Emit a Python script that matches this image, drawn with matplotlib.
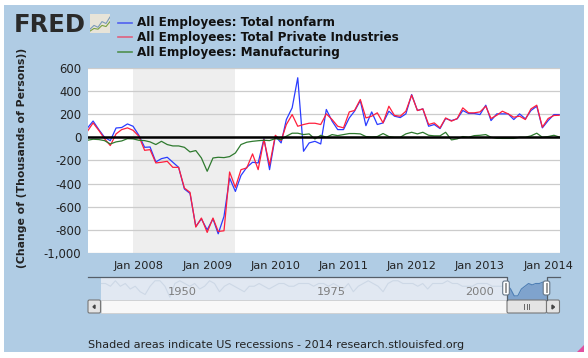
import matplotlib
matplotlib.use('Agg')
import matplotlib.pyplot as plt
import matplotlib.dates as mdates
from matplotlib.patches import Rectangle, FancyBboxPatch, Polygon
import pandas as pd

W, H = 588, 358

months = pd.date_range('2007-04-01', periods=84, freq='MS')

nonfarm = [80, 140, 65, 0, -30, 80, 84, 115, 95, 17, -87, -84,
           -213, -185, -173, -216, -260, -447, -485, -770, -705, -800, -705, -834,
           -684, -352, -468, -330, -260, -216, -222, -12, -280, 9, -49, 153,
           254, 514, -121, -49, -35, -58, 240, 139, 66, 66, 167, 225,
           317, 100, 219, 110, 124, 225, 182, 170, 202, 369, 231, 245,
           95, 110, 75, 162, 144, 159, 231, 205, 205, 196, 277, 144,
           202, 202, 202, 153, 202, 159, 231, 268, 81, 144, 196, 196]
private = [52, 124, 58, -12, -72, 29, 66, 81, 60, 9, -113, -107,
           -222, -216, -208, -260, -260, -439, -476, -776, -698, -822, -698, -814,
           -808, -300, -433, -280, -265, -144, -280, -20, -242, 17, -29, 110,
           196, 95, 110, 121, 121, 110, 202, 153, 95, 81, 219, 231,
           326, 167, 182, 211, 124, 268, 188, 182, 225, 364, 231, 245,
           110, 124, 81, 167, 139, 162, 254, 211, 211, 219, 268, 162,
           190, 225, 202, 173, 182, 153, 245, 277, 87, 162, 188, 190]
manufacturing = [-26, -17, -20, -29, -58, -40, -32, -12, -14, -26, -29, -40,
                 -63, -35, -63, -75, -75, -87, -127, -115, -179, -294, -179, -173,
                 -176, -167, -136, -63, -43, -35, -30, -26, -29, -12, -20, 9,
                 35, 35, 23, 29, -15, 17, 0, 23, 14, 23, 32, 32,
                 29, 6, 3, 6, 32, 6, 0, 0, 29, 43, 29, 43,
                 17, 12, 12, 43, -23, -14, 6, 0, 14, 17, 23, 0,
                 -9, -10, -10, -10, 0, 0, 12, 35, 0, 6, 17, 2]

series_names = ['All Employees: Total nonfarm',
                'All Employees: Total Private Industries',
                'All Employees: Manufacturing']
series_colors = ['#2a3cff', '#ff1f3c', '#2f7a2f']

y_ticks = [600, 400, 200, 0, -200, -400, -600, -800, -1000]
recession = ('2007-12-01', '2009-06-01')
year_ticks = ['2008', '2009', '2010', '2011', '2012', '2013', '2014']

# overview strip above the scrollbar, long history of the series
nav_hist = [5, 5, 4, 6, 4, 5, 3, 4, 2, 1, 4, 6, 6, 4, 0, 5, 6, 5, 4, 5, 3, 4, 6, 5, 2, 4,
            5, 4, 3, 2, 4, 4, 5, 4, 3, 4, 5, 5, 4, 4, 5, 5, 5, 4, 5, 5, 4, 5, 4, 3, 5, 2,
            4, 5, 6, 5, 4, 2, 5, 6, 6, 5, 5, 5, 4, 5, 3, 5, 5, 5, 6, 5, 5, 4, 4, 4, 5, 5,
            5, 4, 4, 4, 5]
nav_recent = [4.5, 3, 0.5, 0.5, 3, 4, 5, 4.5, 5, 5, 5.5, 5]
nav_labels = [('1950', 182), ('1975', 331), ('2000', 480)]

bg = '#b0cce4'
text_col = '#222222'
plt.rcParams['font.family'] = ['DejaVu Sans']

fig = plt.figure(figsize=(W / 100, H / 100), dpi=100, facecolor='white')


def px_axes(x0, y0, x1, y1, **kw):
    # axes placed by pixel box, y counted from the top of the image
    return fig.add_axes([x0 / W, 1 - y1 / H, (x1 - x0) / W, (y1 - y0) / H], **kw)


fig.add_artist(Rectangle((4 / W, 1 - 352 / H), 580 / W, 347 / H, transform=fig.transFigure,
                         facecolor=bg, edgecolor='none', zorder=-5))

ax = px_axes(87.5, 67.8, 560, 253)
x_left = mdates.date2num(pd.Timestamp('2007-04-01'))
ax.set_xlim(x_left, x_left + 472.5 / (68.2 / 365.25))
ax.set_ylim(-1000, 600)
ax.set_facecolor('white')
ax.axvspan(pd.Timestamp(recession[0]), pd.Timestamp(recession[1]), color='#eeeeee', lw=0, zorder=1)
ax.set_yticks(y_ticks)
ax.set_yticklabels([f'{v:,}' for v in y_ticks], fontsize=8.4, color=text_col)
ax.set_xticks([pd.Timestamp(y + '-01-01') for y in year_ticks])
ax.set_xticklabels(['Jan ' + y for y in year_ticks], fontsize=8.2, color=text_col)
ax.tick_params(axis='y', length=0, pad=4.5)
ax.tick_params(axis='x', length=0, pad=6)
ax.grid(axis='y', color='#cccccc', lw=0.9, zorder=2)
for s in ax.spines.values():
    s.set_visible(False)

ax.plot(months, nonfarm, color=series_colors[0], lw=0.9, zorder=3)
ax.plot(months, private, color=series_colors[1], lw=0.9, zorder=4)
ax.plot(months, manufacturing, color=series_colors[2], lw=0.9, zorder=5)
ax.axhline(0, color='black', lw=1.8, zorder=6)

fig.text(22 / W, 1 - 157.5 / H, '(Change of (Thousands of Persons))', rotation=90, fontsize=7.8,
         fontweight='bold', color=text_col, ha='center', va='center')

# legend
for i, name in enumerate(series_names):
    yy = 1 - (22.7 + i * 14.7) / H
    fig.add_artist(plt.Line2D([118 / W, 132 / W], [yy, yy], color=['#5060f0', '#e0607f', '#4f8f4f'][i], lw=1.2))
    fig.text(137 / W, yy, name, fontsize=8.65, fontweight='bold', color='#111111', va='center', ha='left')

# logo
fig.text(13.5 / W, 1 - 24.5 / H, 'FRED', family=['DejaVu Sans'], fontsize=17.5, fontweight='bold',
         color='#2a2a2a', va='center', ha='left')
icon = px_axes(90, 14, 110, 33, facecolor='#e8e4d8')
icon.plot([0, 1, 2, 3, 4, 5], [1, 2, 1.5, 3, 2.5, 4.2], color='#7a9ab8', lw=0.8)
icon.plot([0, 1, 2, 3, 4, 5], [0.5, 1.2, 1, 2, 1.7, 3], color='#7aa040', lw=0.8)
icon.set_xticks([])
icon.set_yticks([])
icon.set_xlim(0, 5)
icon.set_ylim(0, 5)
for s in icon.spines.values():
    s.set_visible(False)

# navigator
nav = px_axes(100.5, 278, 507, 300, facecolor='#e1e8f2')
nav.plot(range(len(nav_hist)), nav_hist, color='#cdd8e6', lw=0.8)
nav.set_xlim(0, len(nav_hist) - 1)
nav.set_ylim(-1, 7)
nav.set_xticks([])
nav.set_yticks([])
for s in nav.spines.values():
    s.set_visible(False)
for lab, xp in nav_labels:
    nav.text((xp - 100.5) / 406.5, (300 - 292) / 22, lab, transform=nav.transAxes, fontsize=8.2,
             color='#7d7d7d', ha='center', va='center')

nav2 = px_axes(507, 278, 546.5, 300, facecolor=bg)
nav2.fill_between(range(len(nav_recent)), nav_recent, -1, color='#7fa3cd', lw=0)
nav2.plot(range(len(nav_recent)), nav_recent, color='#4f7fb5', lw=0.8)
nav2.set_xlim(0, len(nav_recent) - 1)
nav2.set_ylim(-1, 7)
nav2.set_xticks([])
nav2.set_yticks([])
for s in nav2.spines.values():
    s.set_visible(False)

ov = px_axes(0, 0, W, H)
ov.set_xlim(0, W)
ov.set_ylim(H, 0)
ov.axis('off')
ov.patch.set_alpha(0)

# outline of the selected range
ov.plot([88, 507, 507], [276.5, 276.5, 300], color='#555e68', lw=0.9)
ov.plot([546.5, 546.5, 560], [300, 276.5, 276.5], color='#555e68', lw=0.9)

# scrollbar
ov.add_patch(Rectangle((100.5, 300), 406.5, 13, facecolor='#f8f8f8', edgecolor='#d0d0d0', lw=0.6))
for x0, x1 in [(88, 100.5), (507, 546.5), (546.5, 559.5)]:
    ov.add_patch(FancyBboxPatch((x0, 300), x1 - x0, 13, boxstyle='round,pad=0,rounding_size=1.5',
                                facecolor='#e4e4e4', edgecolor='#777777', lw=0.8))
ov.fill([95, 95, 93], [305, 308.5, 306.8], color='#444444')
ov.fill([552, 552, 554.5], [305, 309, 307], color='#444444')
for xp in [524, 526.5, 529]:
    ov.plot([xp, xp], [304, 309], color='#666666', lw=0.7)

# range handles
for xc in [506, 546.5]:
    ov.add_patch(FancyBboxPatch((xc - 3.3, 281), 6.6, 14, boxstyle='round,pad=0,rounding_size=2',
                                facecolor='white', edgecolor='#667788', lw=0.8, zorder=5))
    ov.plot([xc, xc], [284, 292], color='#999999', lw=1.4, zorder=6)

# corner mark at lower right
ov.add_patch(Polygon([(577, 352), (584, 345), (584, 352)], facecolor='#e0509f', edgecolor='none'))

fig.text(88 / W, 1 - 344.5 / H, 'Shaded areas indicate US recessions - 2014 research.stlouisfed.org',
         fontsize=8.03, color=text_col, ha='left', va='center')

fig.savefig('out.png', dpi=100)
